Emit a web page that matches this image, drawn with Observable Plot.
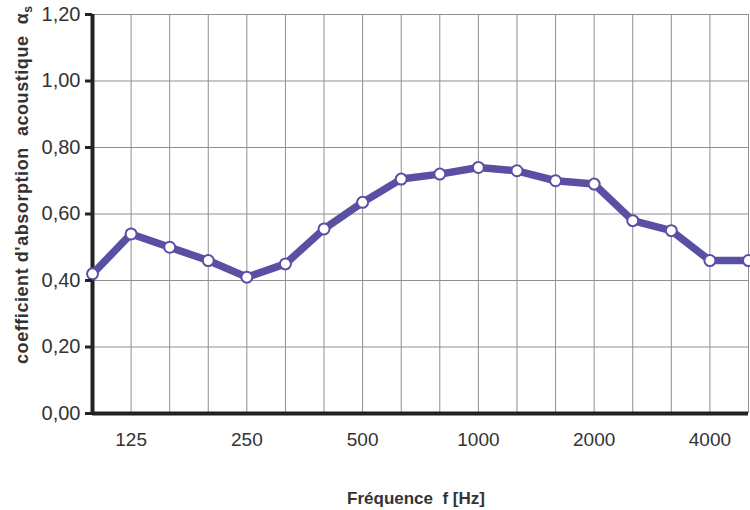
<!DOCTYPE html>
<html>
<head>
<meta charset="utf-8">
<script src="https://cdn.jsdelivr.net/npm/d3@7"></script>
<script src="https://cdn.jsdelivr.net/npm/@observablehq/plot@0.6"></script>
<style>
html,body{margin:0;padding:0;background:#fff;}
svg{display:block;}
</style>
</head>
<body>
<div id="chart"></div>
<script>
const frequencies = ["100","125","160","200","250","315","400","500","630","800","1000","1250","1600","2000","2500","3150","4000","5000"];
const alphaS = [0.42,0.54,0.50,0.46,0.41,0.45,0.555,0.635,0.705,0.72,0.74,0.73,0.70,0.69,0.58,0.55,0.46,0.46];
const xTickLabels = ["125","250","500","1000","2000","4000"];
const yTicks = [0,0.2,0.4,0.6,0.8,1.0,1.2];

const data = frequencies.map((f,i)=>({f, a: alphaS[i]}));
const lineColor = "#5a50a3";
const font = "Liberation Sans, Arial, sans-serif";

const chart = Plot.plot({
  width: 750,
  height: 510,
  marginLeft: 92,
  marginRight: 2,
  marginTop: 14,
  marginBottom: 97,
  style: {fontFamily: font, fontSize: "20px", background: "#fff"},
  x: {type: "point", domain: frequencies, padding: 0, round: false},
  y: {domain: [0, 1.2]},
  marks: [
    Plot.gridX(frequencies, {stroke: "#8f8f8f", strokeOpacity: 1, strokeWidth: 1}),
    Plot.gridY(yTicks, {stroke: "#8f8f8f", strokeOpacity: 1, strokeWidth: 1}),
    Plot.ruleY([0], {stroke: "#222", strokeWidth: 4}),
    Plot.ruleX([frequencies[0]], {stroke: "#222", strokeWidth: 4}),
    Plot.line(data, {x: "f", y: "a", stroke: lineColor, strokeWidth: 7.5, strokeLinejoin: "round"}),
    Plot.dot(data, {x: "f", y: "a", r: 5.5, fill: "white", stroke: lineColor, strokeWidth: 2}),
    Plot.axisY({ticks: yTicks, tickFormat: d => d.toFixed(2).replace(".", ","), tickSize: 7, strokeWidth: 3, stroke: "#222", tickPadding: 5, fontSize: 20, color: "#333", label: null}),
    Plot.axisX({ticks: xTickLabels, tickSize: 0, tickPadding: 19, fontSize: 19, color: "#333", label: null})
  ]
});

const svg = d3.select(chart);

// Y axis label with subscript
const yl = svg.append("text")
  .attr("transform", "translate(28,185) rotate(-90)")
  .attr("text-anchor", "middle")
  .attr("font-family", font)
  .attr("font-size", 18)
  .attr("font-weight", "bold")
  .attr("fill", "#333")
  .style("white-space", "pre")
  .attr("textLength", 358)
  .attr("lengthAdjust", "spacing");
yl.append("tspan").text("coefficient d'absorption  acoustique  α");
yl.append("tspan").attr("font-size", 12).attr("dy", 4).text("s");

// X axis label
svg.append("text")
  .attr("x", 416)
  .attr("y", 504)
  .attr("text-anchor", "middle")
  .attr("font-family", font)
  .attr("font-size", 17)
  .attr("font-weight", "bold")
  .attr("fill", "#333")
  .style("white-space", "pre")
  .text("Fréquence  f [Hz]");

document.getElementById("chart").appendChild(chart);
</script>
</body>
</html>
